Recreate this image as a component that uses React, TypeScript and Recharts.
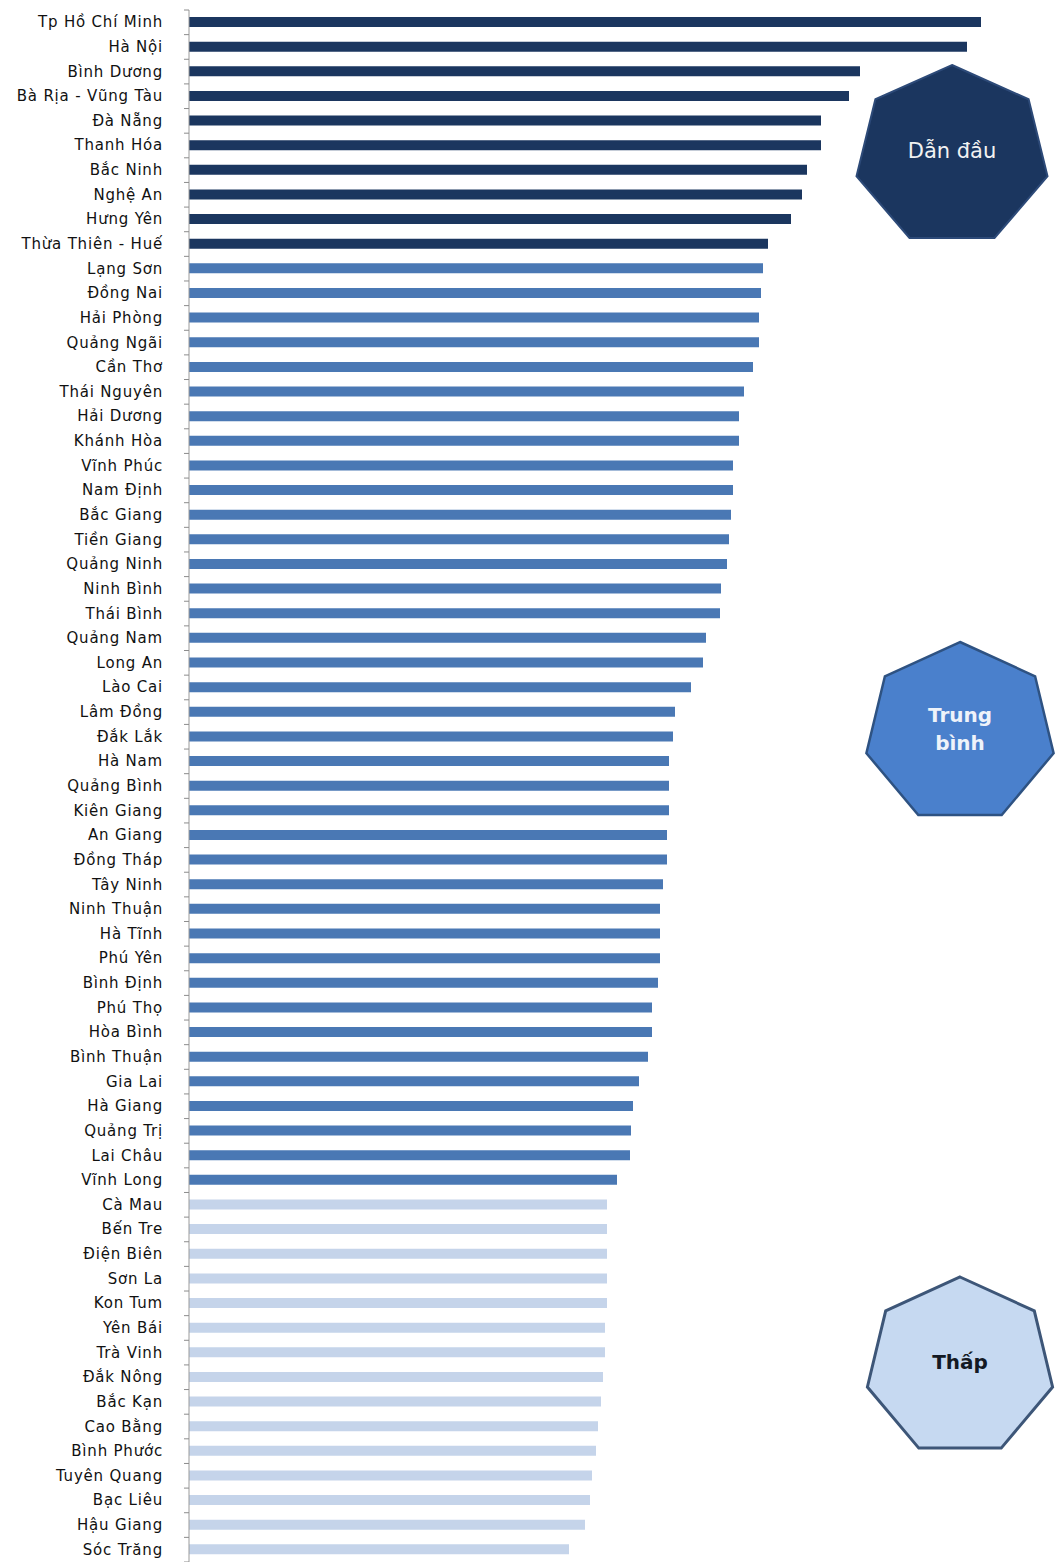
import { BarChart, Bar, XAxis, YAxis, Cell } from "recharts";

const provinces = [
  "Tp Hồ Chí Minh", "Hà Nội", "Bình Dương", "Bà Rịa - Vũng Tàu", "Đà Nẵng",
  "Thanh Hóa", "Bắc Ninh", "Nghệ An", "Hưng Yên", "Thừa Thiên - Huế",
  "Lạng Sơn", "Đồng Nai", "Hải Phòng", "Quảng Ngãi", "Cần Thơ",
  "Thái Nguyên", "Hải Dương", "Khánh Hòa", "Vĩnh Phúc", "Nam Định",
  "Bắc Giang", "Tiền Giang", "Quảng Ninh", "Ninh Bình", "Thái Bình",
  "Quảng Nam", "Long An", "Lào Cai", "Lâm Đồng", "Đắk Lắk",
  "Hà Nam", "Quảng Bình", "Kiên Giang", "An Giang", "Đồng Tháp",
  "Tây Ninh", "Ninh Thuận", "Hà Tĩnh", "Phú Yên", "Bình Định",
  "Phú Thọ", "Hòa Bình", "Bình Thuận", "Gia Lai", "Hà Giang",
  "Quảng Trị", "Lai Châu", "Vĩnh Long", "Cà Mau", "Bến Tre",
  "Điện Biên", "Sơn La", "Kon Tum", "Yên Bái", "Trà Vinh",
  "Đắk Nông", "Bắc Kạn", "Cao Bằng", "Bình Phước", "Tuyên Quang",
  "Bạc Liêu", "Hậu Giang", "Sóc Trăng",
];

const scores = [
  792, 778, 671, 660, 632, 632, 618, 613, 602, 579,
  574, 572, 570, 570, 564, 555, 550, 550, 544, 544,
  542, 540, 538, 532, 531, 517, 514, 502, 486, 484,
  480, 480, 480, 478, 478, 474, 471, 471, 471, 469,
  463, 463, 459, 450, 444, 442, 441, 428, 418, 418,
  418, 418, 418, 416, 416, 414, 412, 409, 407, 403,
  401, 396, 380,
];

// 0 = dẫn đầu, 1 = trung bình, 2 = thấp
const tiers = [
  0, 0, 0, 0, 0, 0, 0, 0, 0, 0,
  1, 1, 1, 1, 1, 1, 1, 1, 1, 1,
  1, 1, 1, 1, 1, 1, 1, 1, 1, 1,
  1, 1, 1, 1, 1, 1, 1, 1, 1, 1,
  1, 1, 1, 1, 1, 1, 1, 1, 2, 2,
  2, 2, 2, 2, 2, 2, 2, 2, 2, 2,
  2, 2, 2,
];

const tierColors = ["#1b365f", "#4a78b4", "#c5d4ea"];

const data = provinces.map((name, i) => ({ name, value: scores[i], tier: tiers[i] }));

const W = 1056;
const H = 1562;
const MARGIN = { top: 10, right: 67, bottom: 0, left: 0 };
const AXIS_X = 189;
const BAND = (H - MARGIN.top - MARGIN.bottom) / provinces.length;

function ProvinceTick(props: any) {
  const { y, payload, index } = props;
  const last = index === provinces.length - 1;
  return (
    <g>
      <text
        x={163}
        y={y}
        textAnchor="end"
        dominantBaseline="central"
        fontFamily="DejaVu Sans"
        fontSize={15}
        letterSpacing={0.8}
        fill="#111"
      >
        {payload.value}
      </text>
      <line x1={AXIS_X - 5} x2={AXIS_X} y1={y - BAND / 2} y2={y - BAND / 2} stroke="#8c8c8c" />
      {last && (
        <line x1={AXIS_X - 5} x2={AXIS_X} y1={y + BAND / 2} y2={y + BAND / 2} stroke="#8c8c8c" />
      )}
    </g>
  );
}

function heptagon(cx: number, top: number, rx: number, ry: number) {
  const cy = top + ry;
  const pts = [];
  for (let k = 0; k < 7; k++) {
    const a = -Math.PI / 2 + (k * 2 * Math.PI) / 7;
    pts.push(`${(cx + rx * Math.cos(a)).toFixed(1)},${(cy + ry * Math.sin(a)).toFixed(1)}`);
  }
  return pts.join(" ");
}

function Badges() {
  return (
    <svg width={W} height={H} style={{ position: "absolute", left: 0, top: 0, pointerEvents: "none" }}>
      <polygon points={heptagon(952, 65, 98, 91)} fill="#1b365f" stroke="#2d4a78" strokeWidth={2} />
      <text x={952} y={151} textAnchor="middle" dominantBaseline="central" fontFamily="DejaVu Sans" fontSize={21} fill="#f2f2f2">
        Dẫn đầu
      </text>
      <polygon points={heptagon(960, 642, 96, 91)} fill="#4a80cc" stroke="#2e5282" strokeWidth={2.5} />
      <text x={960} y={715} textAnchor="middle" dominantBaseline="central" fontFamily="DejaVu Sans" fontWeight="bold" fontSize={20} fill="#eef3fa">
        Trung
      </text>
      <text x={960} y={743} textAnchor="middle" dominantBaseline="central" fontFamily="DejaVu Sans" fontWeight="bold" fontSize={20} fill="#eef3fa">
        bình
      </text>
      <polygon points={heptagon(960, 1277, 95, 90)} fill="#c6d9f1" stroke="#3d5678" strokeWidth={3} />
      <text x={960} y={1362} textAnchor="middle" dominantBaseline="central" fontFamily="DejaVu Sans" fontWeight="bold" fontSize={20} fill="#141a24">
        Thấp
      </text>
    </svg>
  );
}

export default function App() {
  return (
    <div style={{ position: "absolute", left: 0, top: 0, width: W, height: H, background: "#fff" }}>
      <BarChart width={W} height={H} data={data} layout="vertical" margin={MARGIN} barCategoryGap={0}>
        <XAxis type="number" domain={[0, 800]} hide />
        <YAxis
          type="category"
          dataKey="name"
          width={AXIS_X}
          interval={0}
          tickLine={false}
          axisLine={{ stroke: "#9a9a9a" }}
          tick={<ProvinceTick />}
        />
        <Bar dataKey="value" barSize={10} isAnimationActive={false}>
          {data.map((d, i) => (
            <Cell key={i} fill={tierColors[d.tier]} />
          ))}
        </Bar>
      </BarChart>
      <Badges />
    </div>
  );
}
